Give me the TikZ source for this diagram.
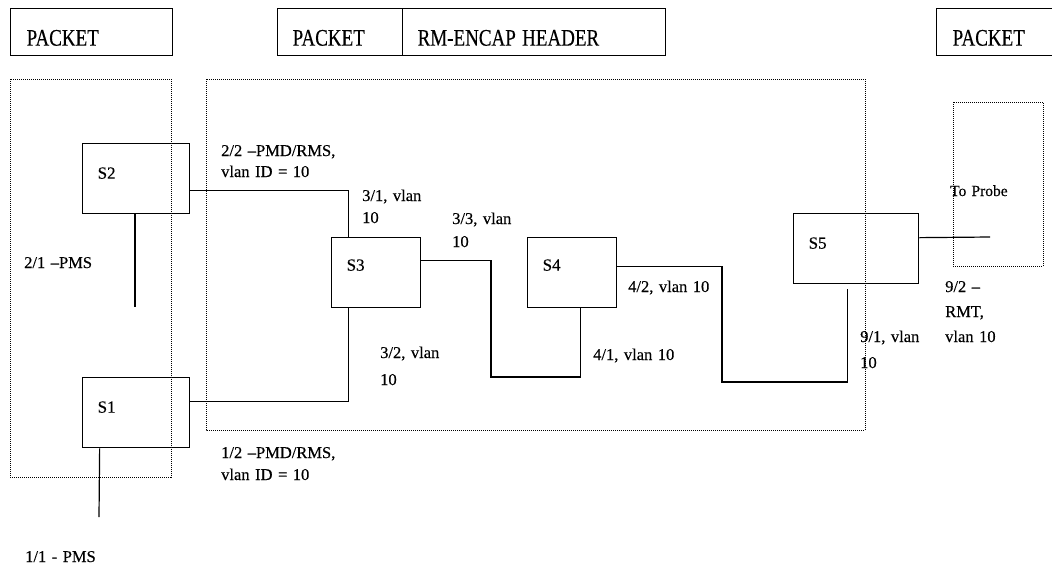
\documentclass[tikz,border=0pt]{standalone}
\usepackage{fontspec}
\setmainfont{Liberation Serif}[FakeBold=0.4]
\begin{document}
\begin{tikzpicture}[x=1pt,y=-1pt,
  sw/.style={draw, line width=1.3pt, rectangle, anchor=north west, inner xsep=15pt, inner ysep=0pt, align=left, font=\fontsize{17}{18}\selectfont},
  hdr/.style={draw, line width=1.3pt, rectangle, anchor=north west, inner xsep=15pt, inner ysep=0pt, align=left, text height=37pt, text depth=10pt, font=\fontsize{19}{20}\selectfont},
  lbl/.style={anchor=base west, inner sep=0pt, text width=200pt, align=left},
  link/.style={line width=1.2pt},
  zone/.style={line width=1pt, dash pattern=on 1pt off 1pt}]
\useasboundingbox (0,0) rectangle (1052,574);
\clip (0,0) rectangle (1052,574);

% header boxes
\node[hdr, text width=130pt, inner xsep=16pt] (h1) at (10,8) {\scalebox{1}[1.25]{PACKET}};
\node[hdr, text width=95pt] (h2) at (277,8) {\scalebox{1}[1.25]{PACKET}};
\node[hdr, text width=233pt] (h3) at (402,8) {\scalebox{1}[1.25]{RM-ENCAP HEADER}};
\node[hdr, text width=110pt, inner xsep=16pt] (h4) at (936,8) {\scalebox{1}[1.25]{PACKET}};

% dotted zones
\draw[zone] (10,79) rectangle (171,477);
\draw[zone] (206,79) rectangle (865,430);
\draw[zone] (953,102) rectangle (1043,266);

% switches
\node[sw, text width=77pt, text height=35pt, text depth=35pt] (S2) at (82,143) {S2};
\node[sw, text width=77pt, text height=35pt, text depth=35pt] (S1) at (82,377) {S1};
\node[sw, text width=59pt, text height=33pt, text depth=37pt] (S3) at (331,237) {S3};
\node[sw, text width=59pt, text height=33pt, text depth=37pt] (S4) at (527,237) {S4};
\node[sw, text width=95pt, text height=35pt, text depth=35pt] (S5) at (793,213) {S5};

% bend points and free ends
\coordinate (b1) at (491,377);
\coordinate (b2) at (722,382);
\coordinate (probe) at (990,237);
\coordinate (s2end) at (135,307);
\coordinate (s1end) at (99,517);

% connectors
\draw[link] ([yshift=-12pt]S2.east) -| ([xshift=-27.5pt]S3.north);
\draw[link] ([yshift=11pt]S1.east) -| ([xshift=-27.5pt]S3.south);
\draw[link] ([yshift=12pt]S3.east) -| (b1) -| ([xshift=8.5pt]S4.south);
\draw[link] ([yshift=6pt]S4.east) -| (b2) -| ([xshift=-8.5pt,yshift=-5pt]S5.south);
\draw[link] ([yshift=11pt]S5.east) -- (probe);
\draw[link] (S2.south -| s2end) -- (s2end);
\draw[link] ([xshift=-36.5pt]S1.south) -- (s1end);

% labels
\node[lbl, font=\fontsize{16.5}{21}\selectfont] (l22) at (221,156) {2/2 –PMD/RMS,\\vlan ID = 10};
\node[lbl, font=\fontsize{16.5}{22}\selectfont] (l31) at (362,201) {3/1, vlan\\10};
\node[lbl, font=\fontsize{16.5}{23}\selectfont] (l33) at (452,224) {3/3, vlan\\10};
\node[lbl, font=\fontsize{16.5}{27}\selectfont] (l32) at (380,358) {3/2, vlan\\10};
\node[lbl, font=\fontsize{16.5}{18}\selectfont] (l41) at (593,360) {4/1, vlan 10};
\node[lbl, font=\fontsize{16.5}{18}\selectfont] (l42) at (628,292) {4/2, vlan 10};
\node[lbl, font=\fontsize{16.5}{26}\selectfont] (l91) at (860,342) {9/1, vlan\\10};
\node[lbl, font=\fontsize{16.5}{25}\selectfont] (l92) at (945,292) {9/2 –\\RMT,\\vlan 10};
\node[lbl, font=\fontsize{15.5}{18}\selectfont] (lpr) at (950,196) {To Probe};
\node[lbl, font=\fontsize{16.5}{18}\selectfont] (l21) at (24,268) {2/1 –PMS};
\node[lbl, font=\fontsize{16.5}{22}\selectfont] (l12) at (221,458) {1/2 –PMD/RMS,\\vlan ID = 10};
\node[lbl, font=\fontsize{16.5}{18}\selectfont] (l11) at (25,562) {1/1 - PMS};
\end{tikzpicture}
\end{document}
